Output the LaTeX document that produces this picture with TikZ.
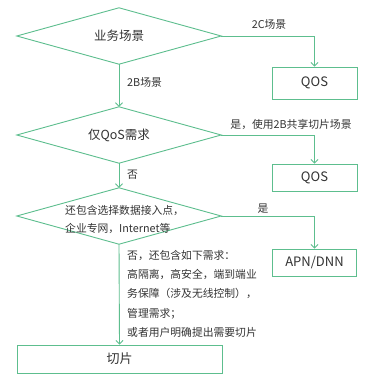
\documentclass[tikz,border=0pt]{standalone}
\usepackage{fontspec}
\setmainfont{Noto Sans CJK SC}
\usetikzlibrary{arrows.meta}
\definecolor{lg}{HTML}{5DBE8E}
\definecolor{tx}{HTML}{333333}
\begin{document}
\begin{tikzpicture}[x=1pt,y=-1pt,
  line/.style={draw=lg, line width=0.9pt},
  arr/.style={line, -{Straight Barb[length=3.5pt,width=7pt]}},
  dia/.style={inner sep=0pt, minimum width=204pt, minimum height=56pt, text=tx, font=\fontsize{12.5}{14}\selectfont},
  box/.style={draw=lg, line width=0.9pt, inner sep=0pt, text=tx, font=\fontsize{13}{15}\selectfont},
  lab/.style={inner sep=0pt, text=tx, font=\fontsize{10.8}{12}\selectfont}]
\fill[white] (0,0) rectangle (365,382);
\useasboundingbox (0,0) rectangle (365,382);
% diamonds
\node[dia] (d1) at (119,36) {业务场景};
\node[dia] (d2) at (119,135) {仅QoS需求};
\node[dia] (d3) at (119,216) {};
\foreach \d in {d1,d2,d3}
  \draw[line] (\d.west) -- (\d.north) -- (\d.east) -- (\d.south) -- cycle;
\node[lab, anchor=west, align=left, font=\fontsize{10.8}{18}\selectfont] (d3t) at (65,220) {还包含选择数据接入点，\\企业专网，Internet等};
% boxes
\node[box, minimum width=85pt, minimum height=32pt] (q1) at (314.5,83) {QOS};
\node[box, minimum width=85pt, minimum height=27pt] (q2) at (314.5,177.5) {QOS};
\node[box, minimum width=84pt, minimum height=27pt] (apn) at (314.5,262.5) {APN/DNN};
\node[box, minimum width=205pt, minimum height=28pt] (qp) at (119.5,359) {切片};
% connectors
\draw[arr] (d1.east) -| (q1.north);
\draw[arr] (d1.south) -- (d2.north);
\draw[arr] (d2.east) -| (q2.north);
\draw[arr] (d2.south) -- (d3.north);
\draw[arr] (d3.east) -| (apn.north);
\draw[arr] (d3.south) -- (qp.north);
% labels
\node[lab] (l1) at (269,24) {2C场景};
\node[lab, anchor=west] (l2) at (127,82) {2B场景};
\node[lab] (l3) at (291,125) {是，使用2B共享切片场景};
\node[lab, anchor=west] (l4) at (127,175) {否};
\node[lab] (l5) at (263,209) {是};
\node[lab, anchor=north west, align=left, font=\fontsize{10.8}{19.3}\selectfont] (l6) at (127,250) {否，还包含如下需求：\\高隔离，高安全，端到端业\\务保障（涉及无线控制），\\管理需求；\\或者用户明确提出需要切片};
\end{tikzpicture}
\end{document}
